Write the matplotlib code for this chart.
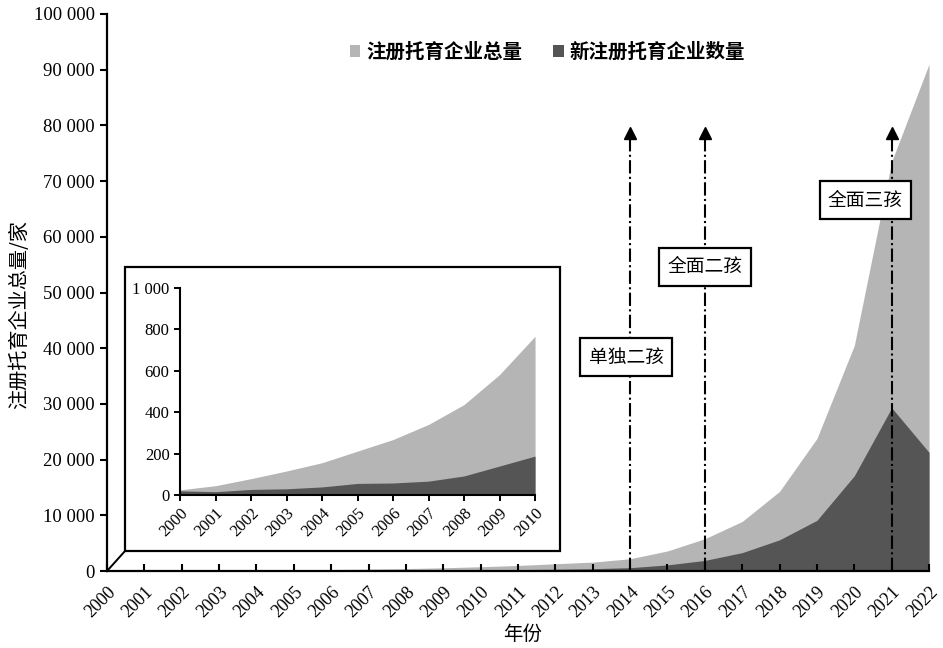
import matplotlib
matplotlib.use('Agg')
import matplotlib.pyplot as plt
from matplotlib.patches import Rectangle
from matplotlib.lines import Line2D
from matplotlib.ticker import FuncFormatter

years = list(range(2000, 2023))
total = [25, 45, 79, 116, 156, 212, 268, 341, 437, 582, 767, 1000, 1300, 1600,
         2200, 3600, 5800, 8900, 14300, 23800, 40500, 73500, 91000]
new = [20, 16, 27, 30, 39, 56, 58, 67, 92, 140, 188, 250, 320, 420,
       600, 1100, 1900, 3300, 5600, 9100, 17100, 29300, 21300]
inset_years = years[:11]
inset_total = total[:11]
inset_new = new[:11]

policy_years = [2014, 2016, 2021]
policy_labels = ['单独二孩', '全面二孩', '全面三孩']
label_x = [2013.9, 2016.0, 2020.3]
label_y = [38400, 54600, 66600]

series_names = ['注册托育企业总量', '新注册托育企业数量']

LIGHT = '#b5b5b5'
DARK = '#555555'
SERIF = 'Liberation Serif'
CJK = ['Noto Sans CJK SC', 'DejaVu Sans']

fmt = FuncFormatter(lambda v, p: f"{int(v):,}".replace(',', ' '))

fig = plt.figure(figsize=(9.43, 6.48), dpi=100)
ax = fig.add_axes([0.1135, 0.1188, 0.8717, 0.8596])
ax.fill_between(years, total, color=LIGHT, lw=0, label=series_names[0])
ax.fill_between(years, new, color=DARK, lw=0, label=series_names[1])
ax.set_xlim(2000, 2022)
ax.set_ylim(0, 100000)
for s in ['top', 'right']:
    ax.spines[s].set_visible(False)
for s in ['left', 'bottom']:
    ax.spines[s].set_linewidth(1.6)
    ax.spines[s].set_zorder(5)
ax.set_xticks(years)
ax.set_xticklabels([str(y) for y in years], rotation=45, ha='right',
                   rotation_mode='anchor', fontsize=13, family=SERIF)
ax.set_yticks(range(0, 100001, 10000))
ax.yaxis.set_major_formatter(fmt)
ax.tick_params(axis='x', direction='in', length=5, width=1.5, pad=9)
ax.tick_params(axis='y', direction='out', length=5, width=1.5, pad=4)
plt.setp(ax.get_yticklabels(), fontsize=13.5, family=SERIF)

ax.set_ylabel('注册托育企业总量/家', fontsize=14.5, family=CJK)
ax.yaxis.set_label_coords(-0.094, 0.46)
ax.set_xlabel('年份', fontsize=14, family=CJK)
ax.xaxis.set_label_coords(0.505, -0.095)

# policy arrows
for py, lab, lx, ly in zip(policy_years, policy_labels, label_x, label_y):
    ax.vlines(py, 0, 77500, colors='black', linestyles='-.', lw=1.5, zorder=3)
    ax.plot([py], [78600], marker='^', color='black', markersize=9, zorder=3)
    ax.text(lx, ly, lab, ha='center', va='center', fontsize=13.5, family=CJK,
            zorder=4,
            bbox=dict(boxstyle='square,pad=0.45', fc='white', ec='black', lw=1.6))

leg = ax.legend(loc='center', bbox_to_anchor=(0.536, 0.932), ncol=2,
                frameon=False, handlelength=0.55, handleheight=0.55,
                handletextpad=0.3, columnspacing=1.6,
                prop={'family': CJK, 'size': 14, 'weight': 'bold'})

# inset frame
rect = Rectangle((0.1326, 0.1497), 0.4613, 0.4383, transform=fig.transFigure,
                 fc='white', ec='black', lw=1.6, zorder=0.5)
fig.patches.append(rect)
diag = Line2D([0.1135, 0.1326], [0.1188, 0.1497], transform=fig.transFigure,
              color='black', lw=1.4, zorder=0.5)
fig.lines.append(diag)

ins = fig.add_axes([0.1909, 0.2361, 0.3765, 0.3194], zorder=1)
ins.fill_between(inset_years, inset_total, color=LIGHT, lw=0)
ins.fill_between(inset_years, inset_new, color=DARK, lw=0)
ins.set_xlim(2000, 2010)
ins.set_ylim(0, 1000)
ins.set_facecolor('none')
for s in ['top', 'right']:
    ins.spines[s].set_visible(False)
for s in ['left', 'bottom']:
    ins.spines[s].set_linewidth(1.5)
ins.set_xticks(inset_years)
ins.set_xticklabels([str(y) for y in inset_years], rotation=45, ha='right',
                    rotation_mode='anchor', fontsize=12, family=SERIF)
ins.set_yticks(range(0, 1001, 200))
ins.yaxis.set_major_formatter(fmt)
plt.setp(ins.get_yticklabels(), fontsize=12, family=SERIF)
ins.tick_params(axis='both', direction='out', length=4, width=1.4)

fig.savefig('out.png', dpi=100)
